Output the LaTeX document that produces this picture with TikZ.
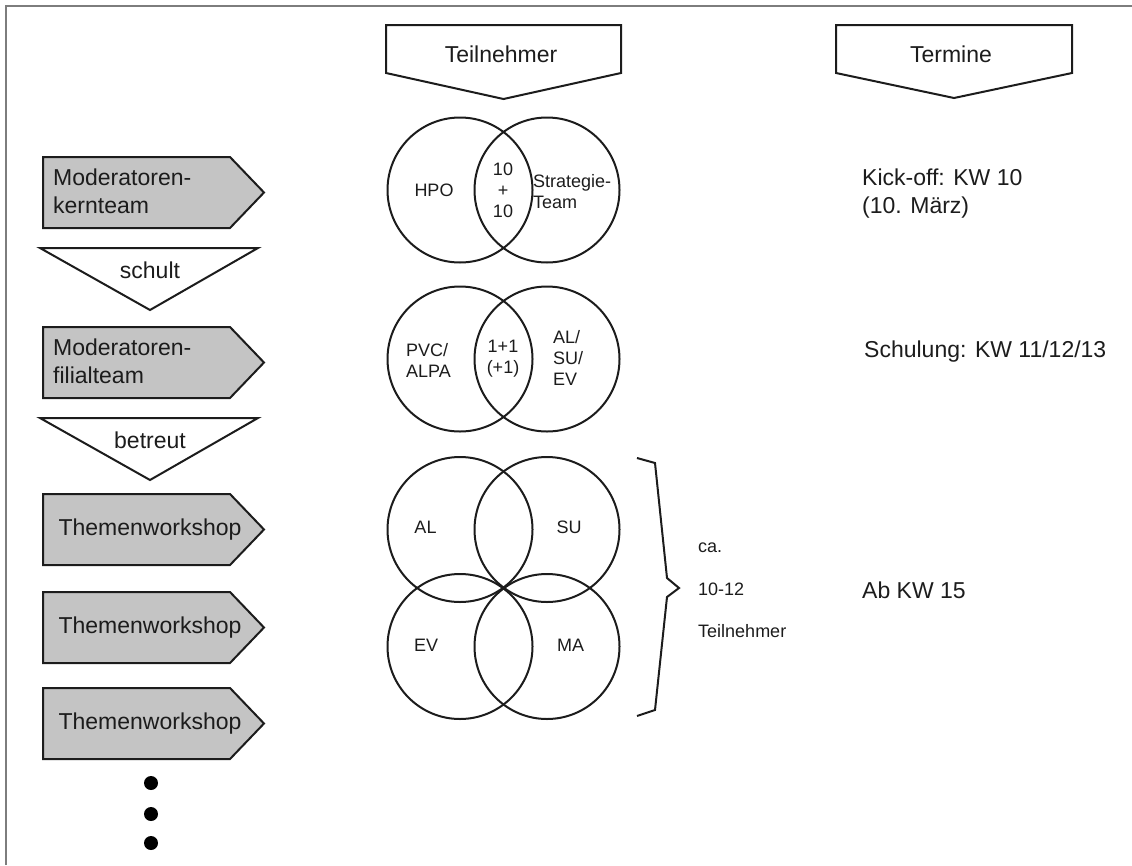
\documentclass[tikz,border=0pt]{standalone}
\usepackage{fontspec}
\setmainfont{Liberation Sans}

\definecolor{boxfill}{RGB}{196,196,196}
\definecolor{framegray}{RGB}{125,125,125}
\definecolor{ink}{RGB}{28,28,28}

\tikzset{
  outline/.style={draw=ink, line width=2pt, line join=miter},
  tagbox/.style={outline, fill=boxfill},
  ring/.style={draw=ink, line width=2pt},
  big/.style={font=\fontsize{23}{28}\selectfont, text=ink, inner sep=0pt},
  small/.style={font=\fontsize{18}{21}\selectfont, text=ink, inner sep=0pt},
  dot/.style={circle, fill=black, inner sep=0pt, minimum size=14pt},
}

% grey arrow tag: rectangle 43..230 with a point reaching x=264, height 71
\newcommand\tagshape[1]{%
  \draw[tagbox] (43,#1) -- (230,#1) -- (264,{#1+35.5}) -- (230,{#1+71})
    -- (43,{#1+71}) -- cycle;}

\begin{document}
\begin{tikzpicture}[x=1pt,y=-1pt]
\path[use as bounding box] (0,0) rectangle (1132,865);

% frame
\draw[framegray, line width=1.3pt] (6,865) -- (6,6) -- (1132,6);

% column headers
\draw[outline, fill=white] (386,25) -- (621,25) -- (621,73) -- (503.5,99)
  -- (386,73) -- cycle;
\node[big, anchor=base] (hdrTeil) at (501,62) {Teilnehmer};
\draw[outline, fill=white] (836,25) -- (1072,25) -- (1072,73) -- (954,98)
  -- (836,73) -- cycle;
\node[big, anchor=base] (hdrTerm) at (951,62) {Termine};

% left column: roles
\tagshape{157}
\node[big, align=left, anchor=west] (kern) at (53,191) {Moderatoren-\\kernteam};

\draw[outline, fill=white] (40,248) -- (258,248) -- (150,310) -- cycle;
\node[big, anchor=base] (schult) at (150,278) {schult};

\tagshape{327}
\node[big, align=left, anchor=west] (filial) at (53,361) {Moderatoren-\\filialteam};

\draw[outline, fill=white] (40,418) -- (258,418) -- (150,480) -- cycle;
\node[big, anchor=base] (betreut) at (150,448) {betreut};

\tagshape{494}
\node[big] (ws1) at (150,529.5) {Themenworkshop};
\tagshape{592}
\node[big] (ws2) at (150,627.5) {Themenworkshop};
\tagshape{688}
\node[big] (ws3) at (150,723.5) {Themenworkshop};

\node[dot] (d1) at (151,783) {};
\node[dot] (d2) at (151,814) {};
\node[dot] (d3) at (151,843) {};

% participants: first pair
\draw[ring] (460,190) circle (72.5);
\draw[ring] (547,190) circle (72.5);
\node[small] (hpo) at (434,190) {HPO};
\node[small, align=center] (zehn) at (503,190) {10\\+\\10};
\node[small, align=left, anchor=west] (strat) at (533,191.5) {Strategie-\\Team};

% participants: second pair
\draw[ring] (460,359) circle (72.5);
\draw[ring] (547,359) circle (72.5);
\node[small, align=left, anchor=west] (pvc) at (406,360) {PVC/\\ALPA};
\node[small, align=center] (eins) at (503,358.5) {1+1\\(+1)};
\node[small, align=left, anchor=west] (alsu) at (553,357.5) {AL/\\SU/\\EV};

% participants: four circles
\draw[ring] (460,529.5) circle (72.5);
\draw[ring] (547,529.5) circle (72.5);
\draw[ring] (460,646.5) circle (72.5);
\draw[ring] (547,646.5) circle (72.5);
\node[small] (al) at (425.5,527) {AL};
\node[small] (su) at (569,527) {SU};
\node[small] (ev) at (426,645) {EV};
\node[small] (ma) at (570.5,645) {MA};

% brace with group size
\draw[outline] (637,458) -- (655,463) -- (667,578) -- (679,588) -- (667,597)
  -- (655,710) -- (637,716);
\node[small, anchor=west] (ca) at (698,548) {ca.};
\node[small, anchor=west] (anz) at (698,589) {10-12};
\node[small, anchor=west] (tn) at (698,631) {Teilnehmer};

% dates
\node[big, align=left, anchor=base west] (kick) at (862,185) {Kick-off: KW 10};
\node[big, anchor=base west] (maerz) at (862,213) {(10. März)};
\node[big, anchor=base west] (schul) at (864,357) {Schulung: KW 11/12/13};
\node[big, anchor=base west] (ab) at (862,598) {Ab KW 15};
\end{tikzpicture}
\end{document}
